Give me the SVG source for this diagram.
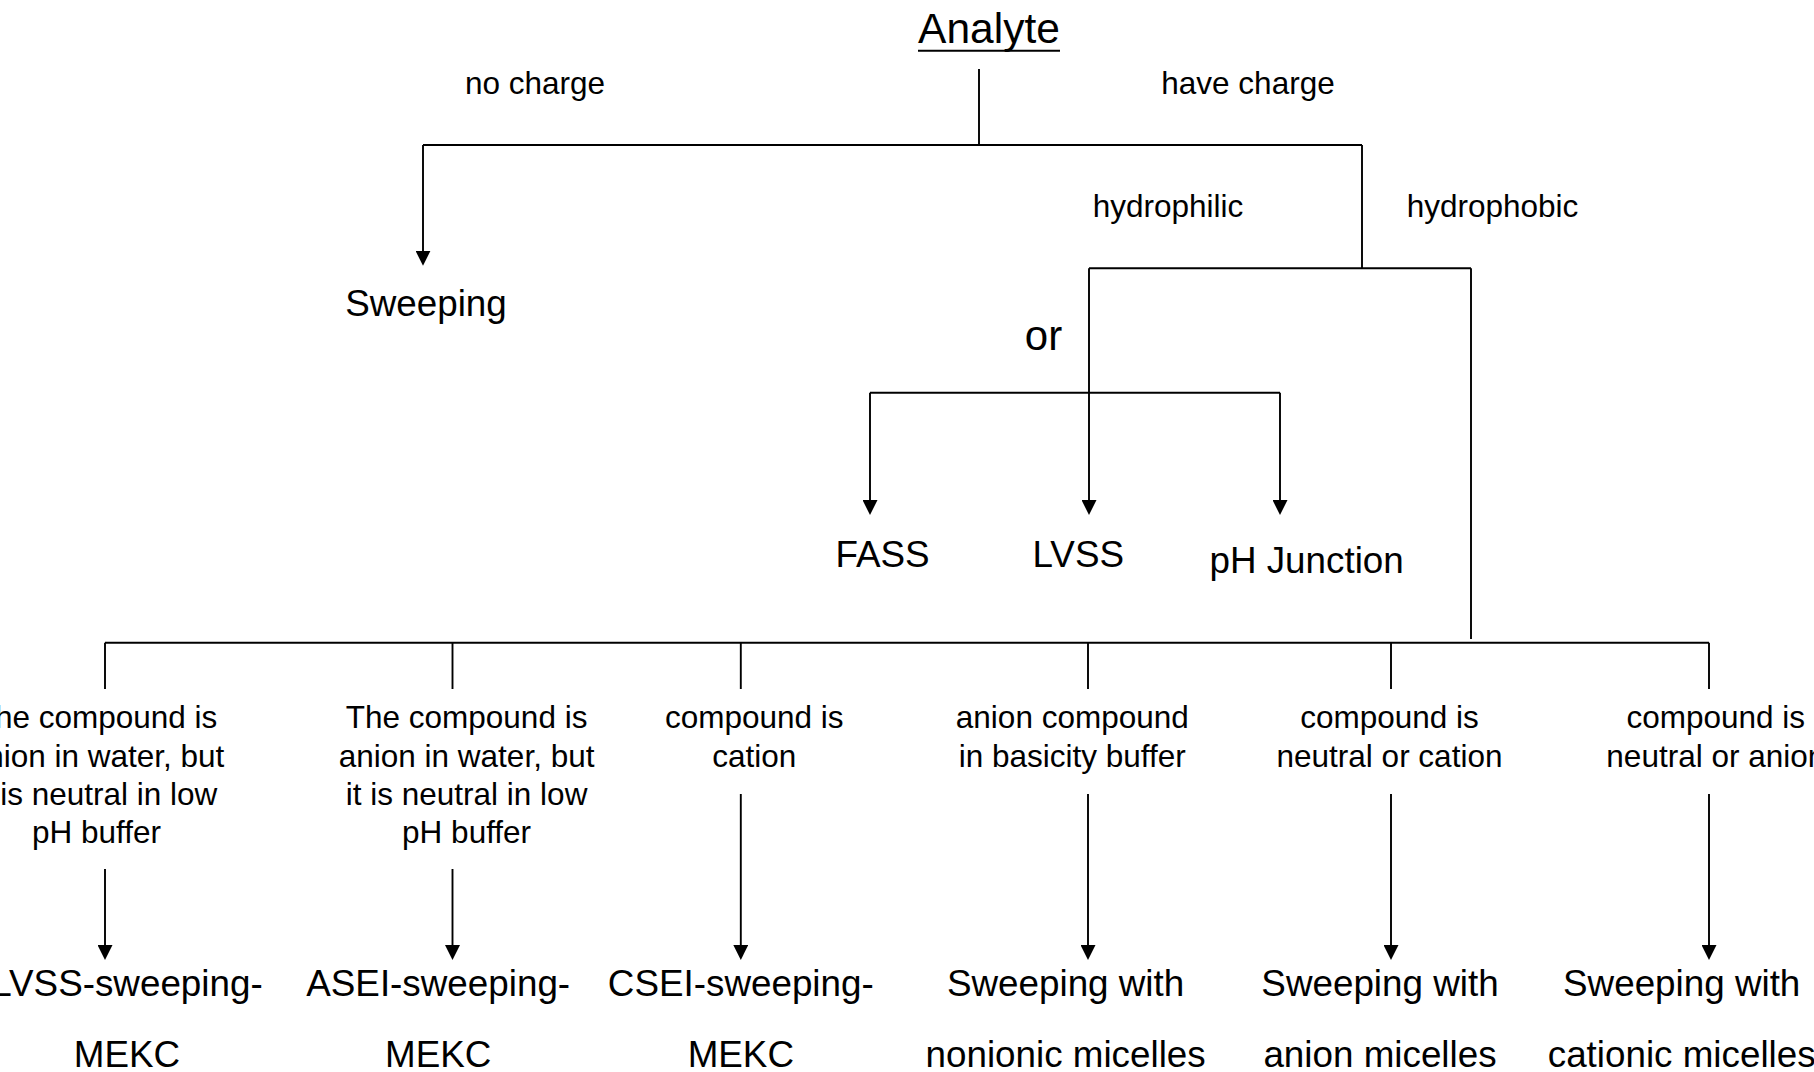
<svg xmlns="http://www.w3.org/2000/svg" width="1814" height="1072" viewBox="0 0 1814 1072">
<style>
text{font-family:"Liberation Sans",Arial,sans-serif;fill:#000;text-anchor:middle}
.t42{font-size:42.5px}
.m{font-size:36.8px}
.s{font-size:31.5px}
.ln{fill:none;stroke:#000;stroke-width:1.9;stroke-linecap:butt}
.ar{marker-end:url(#ah)}
</style>
<defs>
<marker id="ah" markerWidth="15" markerHeight="15" refX="12" refY="7.5" orient="auto" markerUnits="userSpaceOnUse">
<path d="M0,0 L15,7.5 L0,15 Z" fill="#000"/>
</marker>
</defs>
<rect width="1814" height="1072" fill="#fff"/>

<g id="connectors">
<path class="ln" d="M979,69 V145"/>
<path class="ln" d="M423,145 H1362"/>
<path class="ln ar" d="M423,145 V262.7"/>
<path class="ln" d="M1362,145 V268.3"/>
<path class="ln" d="M1089,268.3 H1471"/>
<path class="ln ar" d="M1089,268.3 V512"/>
<path class="ln" d="M870,392.7 H1280"/>
<path class="ln ar" d="M870,392.7 V512"/>
<path class="ln ar" d="M1280,392.7 V512"/>
<path class="ln" d="M1471,268.3 V639"/>
<path class="ln" d="M105,642.7 H1709"/>
<path class="ln" d="M105,642.7 V689"/>
<path class="ln" d="M452.5,642.7 V689"/>
<path class="ln" d="M740.8,642.7 V689"/>
<path class="ln" d="M1088,642.7 V689"/>
<path class="ln" d="M1391,642.7 V689"/>
<path class="ln" d="M1709,642.7 V689"/>
<path class="ln ar" d="M105,869 V957"/>
<path class="ln ar" d="M452.5,869 V957"/>
<path class="ln ar" d="M740.8,794 V957"/>
<path class="ln ar" d="M1088,794 V957"/>
<path class="ln ar" d="M1391,794 V957"/>
<path class="ln ar" d="M1709,794 V957"/>
</g>

<g id="edge-labels">
<text class="s" x="535" y="94.3">no charge</text>
<text class="s" x="1248" y="94.3">have charge</text>
<text class="s" x="1168" y="216.7">hydrophilic</text>
<text class="s" x="1492.5" y="216.7">hydrophobic</text>
<text style="font-size:42px" x="1043.5" y="350">or</text>
</g>

<g id="node-analyte"><text class="t42" x="989" y="43.3">Analyte</text><line x1="918" y1="50.8" x2="1060" y2="50.8" stroke="#000" stroke-width="2"/></g>
<g id="node-sweeping"><text class="m" x="426" y="316">Sweeping</text></g>
<g id="node-fass"><text class="m" x="882.5" y="567">FASS</text></g>
<g id="node-lvss"><text class="m" x="1078.3" y="567">LVSS</text></g>
<g id="node-phjunction"><text class="m" x="1306.6" y="572.5">pH Junction</text></g>

<g id="cond-1"><text class="s" x="96.5" y="728.3">The compound is</text><text class="s" x="96.5" y="766.6">anion in water, but</text><text class="s" x="96.5" y="804.7">it is neutral in low</text><text class="s" x="96.5" y="843">pH buffer</text></g>
<g id="cond-2"><text class="s" x="466.6" y="728.3">The compound is</text><text class="s" x="466.6" y="766.6">anion in water, but</text><text class="s" x="466.6" y="804.7">it is neutral in low</text><text class="s" x="466.6" y="843">pH buffer</text></g>
<g id="cond-3"><text class="s" x="754.2" y="728.3">compound is</text><text class="s" x="754.2" y="766.6">cation</text></g>
<g id="cond-4"><text class="s" x="1072.3" y="728.3">anion compound</text><text class="s" x="1072.3" y="766.6">in basicity buffer</text></g>
<g id="cond-5"><text class="s" x="1389.5" y="728.3">compound is</text><text class="s" x="1389.5" y="766.6">neutral or cation</text></g>
<g id="cond-6"><text class="s" x="1715.8" y="728.3">compound is</text><text class="s" x="1715.8" y="766.6">neutral or anion</text></g>

<g id="res-1"><text class="m" x="127" y="996">LVSS-sweeping-</text><text class="m" x="127" y="1067">MEKC</text></g>
<g id="res-2"><text class="m" x="438.2" y="996">ASEI-sweeping-</text><text class="m" x="438.2" y="1067">MEKC</text></g>
<g id="res-3"><text class="m" x="740.8" y="996">CSEI-sweeping-</text><text class="m" x="740.8" y="1067">MEKC</text></g>
<g id="res-4"><text class="m" x="1065.6" y="996">Sweeping with</text><text class="m" x="1065.6" y="1067">nonionic micelles</text></g>
<g id="res-5"><text class="m" x="1380" y="996">Sweeping with</text><text class="m" x="1380" y="1067">anion micelles</text></g>
<g id="res-6"><text class="m" x="1681.7" y="996">Sweeping with</text><text class="m" x="1681.7" y="1067">cationic micelles</text></g>
</svg>
